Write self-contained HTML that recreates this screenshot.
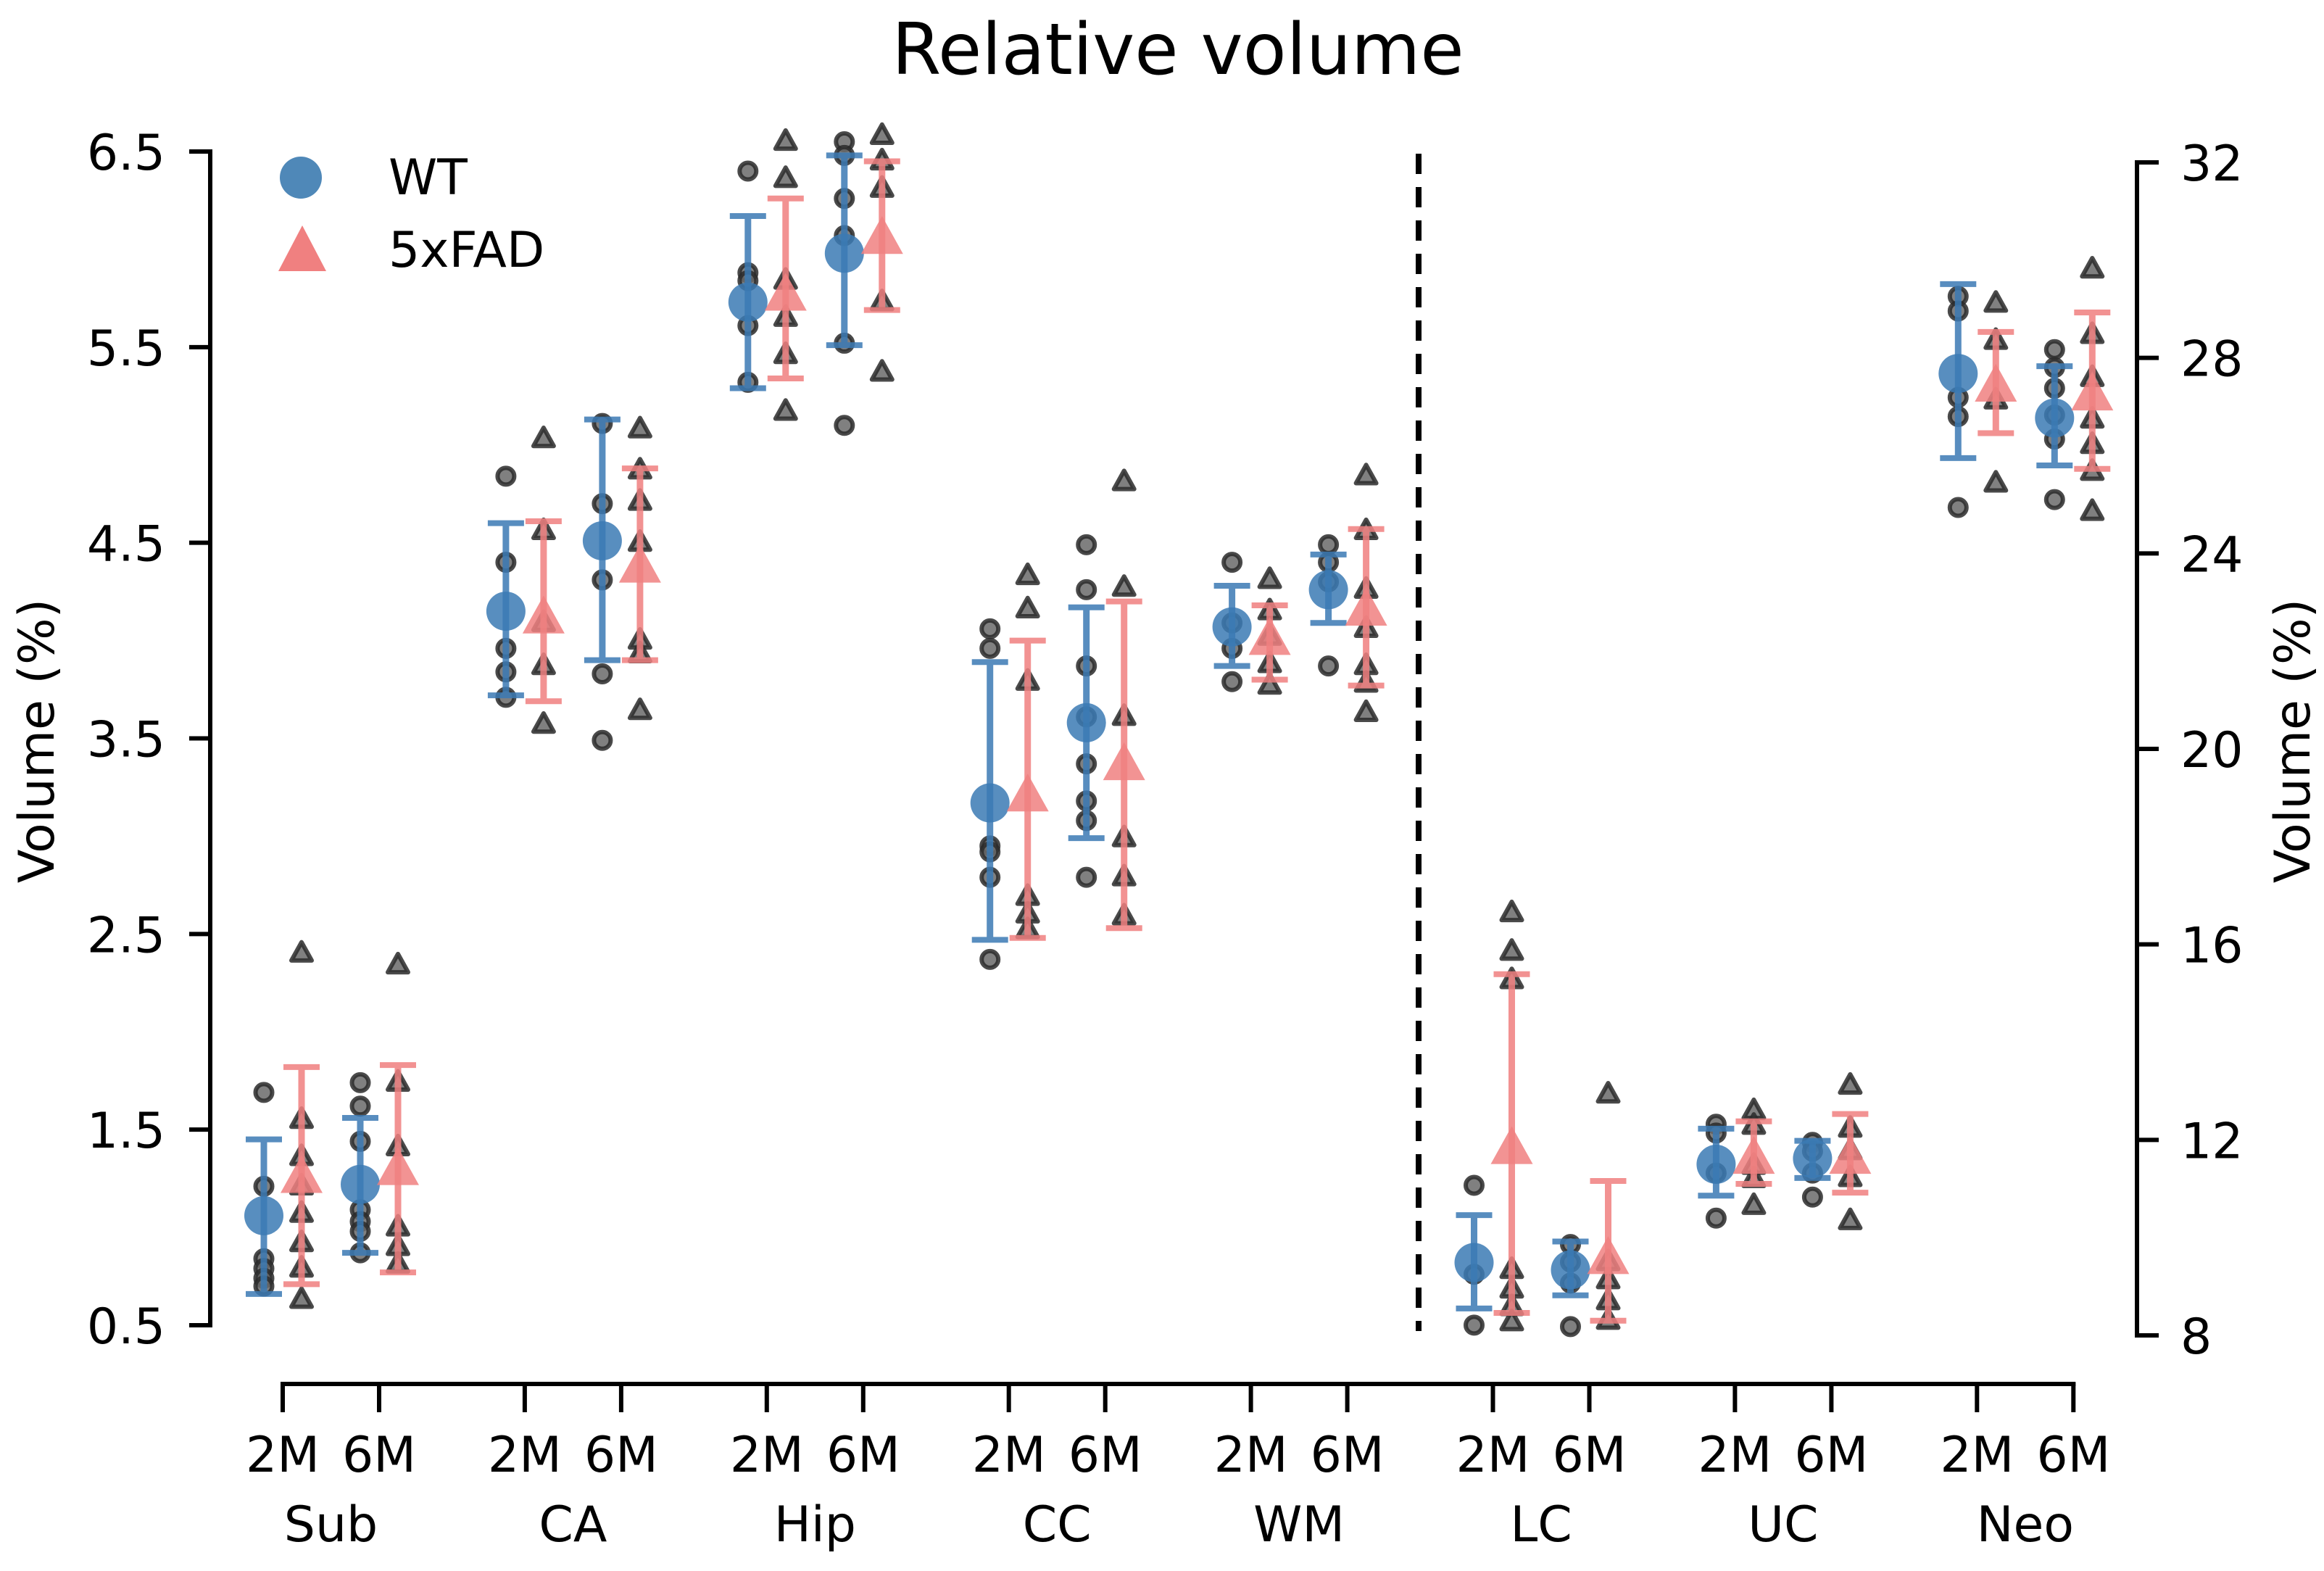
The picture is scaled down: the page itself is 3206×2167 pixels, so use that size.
<!DOCTYPE html>
<html><head><meta charset="utf-8"><style>
html,body{margin:0;padding:0;background:#fff;}
svg{display:block;font-family:"DejaVu Sans","Liberation Sans",sans-serif;}
</style></head><body>
<svg id="chart" width="3206" height="2167" viewBox="0 0 3206 2167" xmlns="http://www.w3.org/2000/svg">
<rect x="0" y="0" width="3206" height="2167" fill="#fff"/>
<text x="1625" y="102" font-size="98" text-anchor="middle" fill="#000">Relative volume</text>
<g id="axes"></g>
<g id="points"></g>
<g id="marks"></g>
<g id="legend">
<circle cx="415" cy="245" r="29" fill="#4682b4" fill-opacity="0.95"/>
<text x="536" y="268" font-size="68">WT</text>
<polygon points="417,311 450,374 384,374" fill="#f08080"/>
<text x="536" y="368" font-size="68">5xFAD</text>
</g>
</svg>
<script>
const regions = ["Sub","CA","Hip","CC","WM","LC","UC","Neo"];
const timepoints = ["2M","6M"];
const leftTicks = [6.5,5.5,4.5,3.5,2.5,1.5,0.5];
const rightTicks = [32,28,24,20,16,12,8];
const wtMean = [1.06,1.22,4.15,4.51,5.73,5.98,3.17,3.58,4.07,4.26,9.49,9.34,11.50,11.62,27.68,26.77];
const wtHi   = [1.45,1.56,4.60,5.13,6.17,6.48,3.89,4.17,4.28,4.44,10.46,9.92,12.23,11.98,29.51,27.83];
const wtLo   = [0.66,0.87,3.72,3.90,5.29,5.51,2.47,2.99,3.87,4.09,8.55,8.82,10.86,11.22,25.95,25.80];
const fadMean= [1.25,1.29,4.11,4.37,5.76,6.05,3.20,3.36,4.00,4.15,11.80,9.55,11.60,11.60,27.40,27.22];
const fadHi  = [1.82,1.83,4.61,4.88,6.26,6.45,4.00,4.20,4.18,4.57,15.39,11.16,12.38,12.53,28.53,28.93];
const fadLo  = [0.71,0.77,3.69,3.90,5.34,5.69,2.48,2.53,3.80,3.77,8.46,8.30,11.10,10.92,26.46,25.73];
const wtPts = [
 [1.69,1.21,0.84,0.79,0.74,0.70],
 [1.74,1.62,1.44,1.09,1.03,0.98,0.87],
 [4.84,4.40,3.96,3.84,3.71],
 [5.11,4.70,4.31,3.83,3.49],
 [6.40,5.88,5.84,5.61,5.32],
 [6.55,6.48,6.26,6.07,5.52,5.10],
 [4.06,3.96,2.95,2.92,2.79,2.37],
 [4.49,4.26,3.87,3.61,3.37,3.18,3.08,2.79],
 [4.40,4.09,3.96,3.79],
 [4.49,4.40,4.30,3.87],
 [11.07,9.25,8.21],
 [9.86,9.50,9.07,8.18],
 [12.32,12.14,11.32,10.40],
 [11.95,11.77,11.32,10.83],
 [29.26,28.96,27.19,26.80,24.94],
 [28.17,27.80,27.38,26.83,26.34,25.10]
];
const fadPts = [
 [2.40,1.55,1.36,1.21,1.07,0.92,0.79,0.63],
 [2.34,1.74,1.41,1.00,0.90,0.81],
 [5.03,4.56,4.09,3.87,3.57],
 [5.08,4.87,4.71,4.50,4.00,3.93,3.64],
 [6.55,6.36,5.84,5.65,5.46,5.17],
 [6.58,6.45,6.31,5.73,5.37],
 [4.33,4.16,3.79,2.69,2.60,2.52],
 [4.81,4.27,3.61,2.99,2.79,2.59],
 [4.31,4.15,4.02,3.88,3.77],
 [4.84,4.56,4.26,4.06,3.87,3.78,3.63],
 [16.64,15.85,15.27,9.34,8.94,8.58,8.27],
 [12.93,9.50,9.13,8.70,8.30],
 [12.59,12.29,11.47,11.20,10.65],
 [13.11,12.23,11.77,11.22,10.34],
 [29.11,28.35,27.13,25.43],
 [29.81,28.47,27.59,26.74,26.22,25.67,24.85]
];

const NS="http://www.w3.org/2000/svg";
function mk(tag, attrs, parent){const e=document.createElementNS(NS,tag);for(const k in attrs)e.setAttribute(k,attrs[k]);parent.appendChild(e);return e;}
const yLeft = v => 209 + (6.5 - v) * (1828-209)/6;
const yRight = v => 224 + (32 - v) * (1842-224)/24;
const xTick = g => 390 + Math.floor(g/2)*333.9 + (g%2)*133;
const yFor = (g,v) => (g < 10 ? yLeft(v) : yRight(v));

const axes=document.getElementById('axes');
let e=mk('line',{x1:290,y1:yLeft(6.5)-3,x2:290,y2:yLeft(0.5)+3,stroke:'#000','stroke-width':6},axes);


leftTicks.forEach(t=>{
  const y=yLeft(t);
  let l=mk('line',{x1:261,y1:y,x2:292,y2:y,stroke:'#000','stroke-width':6},axes);
  
  
  let tx=mk('text',{x:228,y:y+25,'font-size':68,'text-anchor':'end'},axes);
  tx.textContent=t.toFixed(1);
  
  
});
e=mk('line',{x1:2948,y1:yRight(32)-3,x2:2948,y2:yRight(8)+3,stroke:'#000','stroke-width':6},axes);


rightTicks.forEach(t=>{
  const y=yRight(t);
  let l=mk('line',{x1:2946,y1:y,x2:2978,y2:y,stroke:'#000','stroke-width':6},axes);
  
  
  let tx=mk('text',{x:3008,y:y+25,'font-size':68,'text-anchor':'start'},axes);
  tx.textContent=String(t);
  
  
});
e=mk('text',{x:0,y:0,'font-size':68,'text-anchor':'middle',transform:'translate(74,1022) rotate(-90)'},axes);
e.textContent='Volume (%)';


e=mk('text',{x:0,y:0,'font-size':68,'text-anchor':'middle',transform:'translate(3186,1022) rotate(-90)'},axes);
e.textContent='Volume (%)';


e=mk('line',{x1:xTick(0)-3,y1:1909,x2:xTick(15)+3,y2:1909,stroke:'#000','stroke-width':6},axes);


for(let g=0;g<16;g++){
  const x=xTick(g);
  let l=mk('line',{x1:x,y1:1907,x2:x,y2:1948,stroke:'#000','stroke-width':6},axes);
  
  
  let tx=mk('text',{x:x,y:2030,'font-size':68,'text-anchor':'middle'},axes);
  tx.textContent=timepoints[g%2];
  
  
}
regions.forEach((r,i)=>{
  let tx=mk('text',{x:(xTick(2*i)+xTick(2*i+1))/2,y:2126,'font-size':68,'text-anchor':'middle'},axes);
  tx.textContent=r;
  
  
});
e=mk('line',{x1:1957,y1:212,x2:1957,y2:1836,stroke:'#000','stroke-width':8,'stroke-dasharray':'28 18'},axes);



const pts=document.getElementById('points');
const marks=document.getElementById('marks');
const OFF=26;
function tri(cx,cy,s){const h=s*0.9;return `${cx},${cy-h*0.62} ${cx+s/2},${cy+h*0.38} ${cx-s/2},${cy+h*0.38}`;}
for(let g=0;g<16;g++){
  const xw=xTick(g)-OFF, xf=xTick(g)+OFF;
  wtPts[g].forEach(v=>{
    const c=mk('circle',{cx:xw,cy:yFor(g,v),r:11.5,fill:'#6a6a6a',stroke:'#2a2a2a','stroke-width':6,'fill-opacity':0.85,'stroke-opacity':0.85},pts);
    
    
  });
  fadPts[g].forEach(v=>{
    const p=mk('polygon',{points:tri(xf,yFor(g,v),28),fill:'#6a6a6a',stroke:'#2a2a2a','stroke-width':6,'stroke-linejoin':'round','fill-opacity':0.85,'stroke-opacity':0.85},pts);
    
    
  });
  const gw=mk('g',{opacity:0.85},marks);
  
  
  const yh=yFor(g,wtHi[g]), yl=yFor(g,wtLo[g]);
  mk('line',{x1:xw,y1:yh,x2:xw,y2:yl,stroke:'#3b7ab4','stroke-width':9},gw);
  mk('line',{x1:xw-25,y1:yh,x2:xw+25,y2:yh,stroke:'#3b7ab4','stroke-width':8},gw);
  mk('line',{x1:xw-25,y1:yl,x2:xw+25,y2:yl,stroke:'#3b7ab4','stroke-width':8},gw);
  const cm=mk('circle',{cx:xw,cy:yFor(g,wtMean[g]),r:27,fill:'#3b7ab4','fill-opacity':0.85},marks);
  
  
  const gf=mk('g',{opacity:0.85},marks);
  
  
  const fh=yFor(g,fadHi[g]), fl=yFor(g,fadLo[g]);
  mk('line',{x1:xf,y1:fh,x2:xf,y2:fl,stroke:'#f08080','stroke-width':9},gf);
  mk('line',{x1:xf-25,y1:fh,x2:xf+25,y2:fh,stroke:'#f08080','stroke-width':8},gf);
  mk('line',{x1:xf-25,y1:fl,x2:xf+25,y2:fl,stroke:'#f08080','stroke-width':8},gf);
  const tm=mk('polygon',{points:tri(xf,yFor(g,fadMean[g]),58),fill:'#f08080','fill-opacity':0.85},marks);
  
  
}
</script>
</body></html>
